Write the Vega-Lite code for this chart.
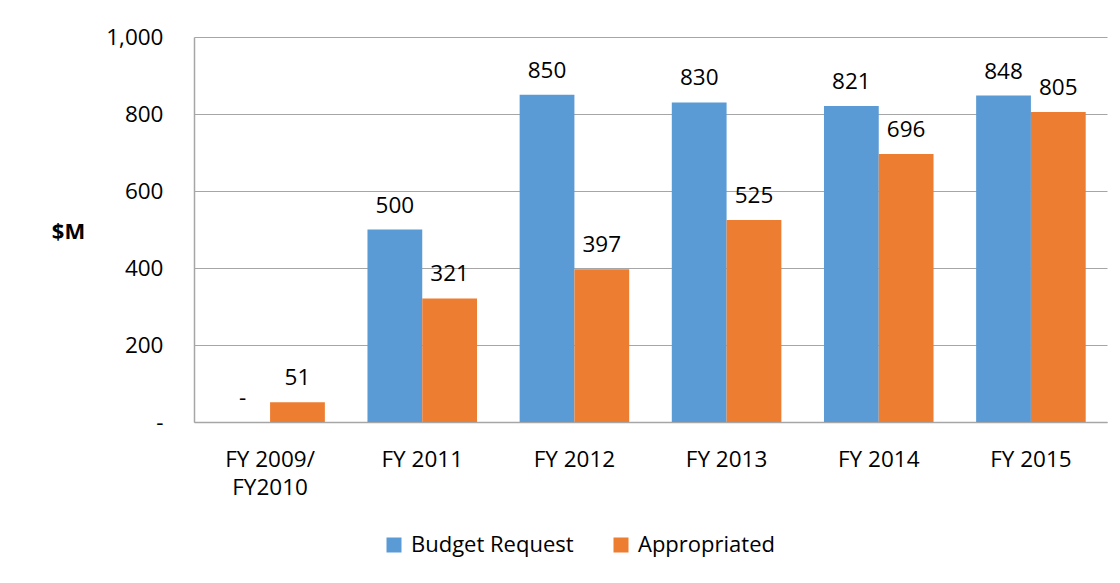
{
  "$schema": "https://vega.github.io/schema/vega-lite/v6.json",
  "width": 913,
  "height": 385,
  "autosize": {"type": "none"},
  "padding": {"left": 194, "top": 37, "right": 13, "bottom": 161},
  "background": "white",
  "config": {
    "font": "Open Sans",
    "view": {"stroke": null},
    "axis": {"labelFont": "Open Sans", "labelFontSize": 22.5, "labelColor": "#000000", "titleFont": "Open Sans"},
    "legend": {"labelFont": "Open Sans", "labelFontSize": 22, "labelColor": "#000000", "labelLimit": 400}
  },
  "data": {
    "values": [
      {"year": "FY 2009/|FY2010", "series": "Budget Request", "value": 0},
      {"year": "FY 2009/|FY2010", "series": "Appropriated", "value": 51},
      {"year": "FY 2011", "series": "Budget Request", "value": 500},
      {"year": "FY 2011", "series": "Appropriated", "value": 321},
      {"year": "FY 2012", "series": "Budget Request", "value": 850},
      {"year": "FY 2012", "series": "Appropriated", "value": 397},
      {"year": "FY 2013", "series": "Budget Request", "value": 830},
      {"year": "FY 2013", "series": "Appropriated", "value": 525},
      {"year": "FY 2014", "series": "Budget Request", "value": 821},
      {"year": "FY 2014", "series": "Appropriated", "value": 696},
      {"year": "FY 2015", "series": "Budget Request", "value": 848},
      {"year": "FY 2015", "series": "Appropriated", "value": 805}
    ]
  },
  "encoding": {
    "x": {
      "field": "year",
      "type": "nominal",
      "sort": null,
      "scale": {"paddingInner": 0.28, "paddingOuter": 0.14},
      "axis": {
        "title": null,
        "labelAngle": 0,
        "labelExpr": "split(datum.label, '|')",
        "labelLineHeight": 28,
        "labelPadding": 26,
        "ticks": false,
        "domainColor": "#A6A6A6",
        "domainWidth": 1.5
      }
    },
    "xOffset": {"field": "series", "type": "nominal", "sort": ["Budget Request", "Appropriated"], "scale": {"paddingInner": 0, "paddingOuter": 0}},
    "y": {
      "field": "value",
      "type": "quantitative",
      "scale": {"domain": [0, 1000]},
      "axis": {
        "values": [0, 200, 400, 600, 800, 1000],
        "labelExpr": "datum.value == 0 ? '-' : format(datum.value, ',')",
        "labelPadding": 31,
        "ticks": false,
        "domain": true,
        "domainColor": "#A6A6A6",
        "domainWidth": 1.5,
        "gridColor": "#A6A6A6",
        "gridWidth": 1.2,
        "title": "$M",
        "titleAngle": 0,
        "titleFontSize": 22,
        "titleFontWeight": "bold",
        "titleColor": "#000000",
        "titleAlign": "center",
        "titleBaseline": "middle",
        "titleX": -126,
        "titleY": 194
      }
    }
  },
  "layer": [
    {
      "mark": {"type": "bar"},
      "encoding": {
        "color": {
          "field": "series",
          "type": "nominal",
          "sort": ["Budget Request", "Appropriated"],
          "scale": {"domain": ["Budget Request", "Appropriated"], "range": ["#5B9BD5", "#ED7D31"]},
          "legend": {
            "title": null,
            "orient": "none",
            "legendX": 189,
            "legendY": 497,
            "direction": "horizontal",
            "symbolType": "square",
            "symbolSize": 225,
            "symbolStrokeWidth": 0,
            "labelOffset": 6,
            "columnPadding": 36
          }
        }
      }
    },
    {
      "mark": {
        "type": "text",
        "baseline": "bottom",
        "dy": -12,
        "fontSize": 22.5,
        "color": "#000000",
        "text": {"expr": "datum.value == 0 ? '-' : format(datum.value, ',')"}
      },
      "encoding": {}
    }
  ]
}
